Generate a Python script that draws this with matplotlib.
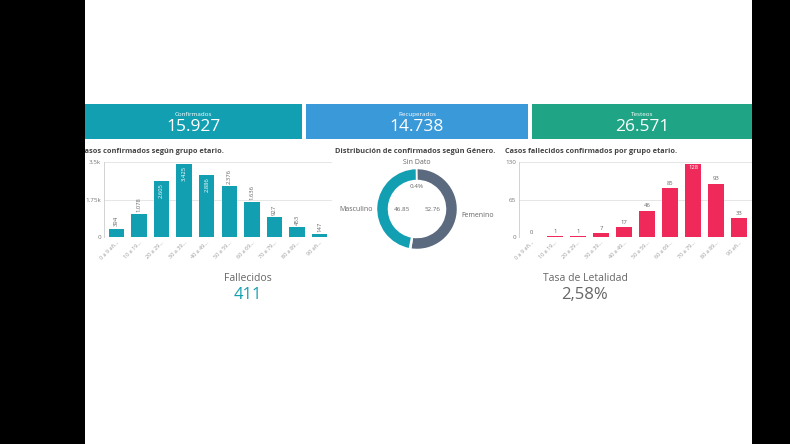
import numpy as np
import matplotlib
matplotlib.use('Agg')
import matplotlib.pyplot as plt
from matplotlib.patches import Rectangle

plt.rcParams['font.family'] = ['Open Sans', 'DejaVu Sans']

W, H = 790, 444

# data
age_groups = ['0 a 9 añ...', '10 a 19...', '20 a 29...', '30 a 39...', '40 a 49...',
              '50 a 59...', '60 a 69...', '70 a 79...', '80 a 89...', '90 añ...']
confirmed = [394, 1078, 2605, 3425, 2886, 2376, 1636, 927, 453, 147]
deaths = [0, 1, 1, 7, 17, 46, 85, 128, 93, 33]
gender_labels = ['Femenino', 'Sin Dato', 'Masculino']
gender_pct = [52.76, 0.39, 46.85]
kpi_names = ['Confirmados', 'Recuperados', 'Testeos']
kpi_values = ['15.927', '14.738', '26.571']
fallecidos = '411'
letalidad = '2,58%'

teal = '#139fb2'
blue = '#3a9ad9'
green = '#1fa585'
red = '#ef2a5a'
slate = '#5c6a80'


def px(x0, y0, x1, y1):
    return [x0 / W, 1 - y1 / H, (x1 - x0) / W, (y1 - y0) / H]


fig = plt.figure(figsize=(W / 100, H / 100), dpi=100)
bg = fig.add_axes([0, 0, 1, 1])
bg.set_xlim(0, W)
bg.set_ylim(H, 0)
bg.axis('off')

# KPI boxes
boxes = [(85, 302, teal), (306, 528, blue), (532, 752, green)]
for (x0, x1, c), name, val in zip(boxes, kpi_names, kpi_values):
    bg.add_patch(Rectangle((x0, 104), x1 - x0, 35, color=c, lw=0))
    bg.text((x0 + x1) / 2, 114, name, color='white', fontsize=4.5, ha='center', va='center')
    bg.text((x0 + x1) / 2, 127, val, color='white', fontsize=12.5, ha='center', va='center')

# titles
bg.text(80, 151, 'Casos confirmados según grupo etario.', fontsize=5.3, color='#444444',
        fontweight='bold', va='center')
bg.text(335, 151, 'Distribución de confirmados según Género.', fontsize=5.3, color='#444444',
        fontweight='bold', va='center')
bg.text(505, 151, 'Casos fallecidos confirmados por grupo etario.', fontsize=5.3, color='#444444',
        fontweight='bold', va='center')

# bottom KPIs
bg.text(248, 278, 'Fallecidos', fontsize=7.5, color='#666666', ha='center', va='center')
bg.text(248, 295, fallecidos, fontsize=12, color=teal, ha='center', va='center')
bg.text(585, 278, 'Tasa de Letalidad', fontsize=7.5, color='#666666', ha='center', va='center')
bg.text(585, 295, letalidad, fontsize=12, color='#666666', ha='center', va='center')


def bar_chart(rect, values, ymax, ticks, ticklabels, color, inside_thr, rotate):
    ax = fig.add_axes(px(*rect))
    x = np.arange(len(values))
    ax.bar(x, values, width=0.68, color=color, zorder=2)
    ax.set_ylim(0, ymax * 1.005)
    ax.set_xlim(-0.55, len(values) - 0.45)
    ax.set_yticks(ticks)
    ax.set_yticklabels(ticklabels, fontsize=4.5, color='#777777')
    ax.set_xticks(x)
    ax.set_xticklabels(age_groups, rotation=45, ha='right', rotation_mode='anchor',
                       fontsize=4, color='#999999')
    ax.tick_params(length=0, pad=2)
    ax.grid(axis='y', color='#e2e2e2', lw=0.6, zorder=0)
    for s in ['top', 'right', 'bottom']:
        ax.spines[s].set_visible(False)
    ax.spines['left'].set_color('#cccccc')
    ax.spines['left'].set_linewidth(0.6)
    for xi, v in zip(x, values):
        lab = f'{v:,}'.replace(',', '.')
        if v >= inside_thr:
            ax.text(xi, v - ymax * 0.02, lab, ha='center', va='top', color='white',
                    fontsize=4.2, rotation=90 if rotate else 0)
        else:
            ax.text(xi, v + ymax * 0.03, lab, ha='center', va='bottom', color='#666666',
                    fontsize=4.2, rotation=90 if rotate else 0)
    return ax


bar_chart((104, 162, 332, 237), confirmed, 3500, [0, 1750, 3500], ['0', '1.75k', '3.5k'],
          teal, 2500, True)
bar_chart((519, 162, 752, 237), deaths, 130, [0, 65, 130], ['0', '65', '130'],
          red, 120, False)

# donut
dax = fig.add_axes(px(376, 168, 458, 250))
dax.pie(gender_pct, colors=[slate, 'white', teal], startangle=90 + 0.39 * 3.6 / 2,
        counterclock=False, wedgeprops=dict(width=0.3, edgecolor='white', linewidth=1.2))
dax.set_aspect('equal')
dax.set_xlim(-1.01, 1.01)
dax.set_ylim(-1.01, 1.01)
dax.text(0.0, 0.55, '0.4%', fontsize=4.5, color='#666666', ha='center', va='center')
dax.text(-0.38, 0.0, '46.85', fontsize=4.5, color='#666666', ha='center', va='center')
dax.text(0.38, 0.0, '52.76', fontsize=4.5, color='#666666', ha='center', va='center')
bg.text(417, 162, 'Sin Dato', fontsize=5, color='#666666', ha='center', va='center')
bg.text(356, 209, 'Masculino', fontsize=5, color='#666666', ha='center', va='center')
bg.text(478, 215, 'Femenino', fontsize=5, color='#666666', ha='center', va='center')

# black side bars
over = fig.add_axes([0, 0, 1, 1], zorder=10)
over.set_xlim(0, W)
over.set_ylim(H, 0)
over.axis('off')
over.patch.set_alpha(0)
over.add_patch(Rectangle((0, 0), 85, H, color='black', lw=0))
over.add_patch(Rectangle((752, 0), W - 752, H, color='black', lw=0))

fig.savefig('out.png', dpi=100)
